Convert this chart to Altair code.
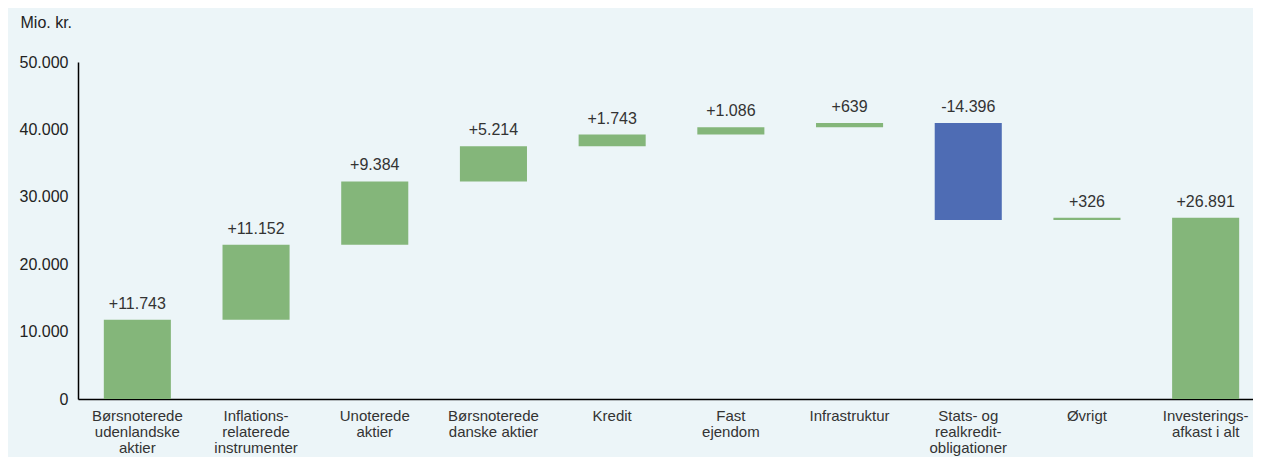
import altair as alt
import pandas as pd

categories = [
    "Børsnoterede|udenlandske|aktier",
    "Inflations-|relaterede|instrumenter",
    "Unoterede|aktier",
    "Børsnoterede|danske aktier",
    "Kredit",
    "Fast|ejendom",
    "Infrastruktur",
    "Stats- og|realkredit-|obligationer",
    "Øvrigt",
    "Investerings-|afkast i alt",
]
changes = [11743, 11152, 9384, 5214, 1743, 1086, 639, -14396, 326, 26891]
is_total = [False] * 9 + [True]

rows = []
cum = 0
for cat, v, tot in zip(categories, changes, is_total):
    if tot:
        start, end = 0, v
    else:
        start, end = cum, cum + v
        cum = end
    rows.append({
        "cat": cat,
        "start": start,
        "end": end,
        "top": max(start, end),
        "label": f"{v:+,}".replace(",", "."),
        "kind": "neg" if v < 0 else "pos",
    })
df = pd.DataFrame(rows)

FONT = "Liberation Sans"
xenc = alt.X(
    "cat:N",
    sort=categories,
    scale=alt.Scale(paddingInner=0.435, paddingOuter=0.2175, range=[0, 1187]),
    axis=alt.Axis(
        title=None, labelAngle=0, ticks=False, domainColor="#000", domainWidth=1.5,
        labelExpr="split(datum.label, '|')", labelFont=FONT, labelFontSize=15,
        labelColor="#333", labelPadding=9, labelLineHeight=16, labelBaseline="top",
        labelLimit=200,
    ),
)

bars = alt.Chart(df).mark_bar().encode(
    x=xenc,
    y=alt.Y(
        "start:Q",
        scale=alt.Scale(domain=[0, 50000], nice=False),
        axis=alt.Axis(
            values=[0, 10000, 20000, 30000, 40000, 50000],
            labelExpr="replace(format(datum.value, ','), ',', '.')",
            grid=False, ticks=False, domainColor="#000", domainWidth=1.5,
            labelFont=FONT, labelFontSize=16, labelColor="#222", labelPadding=10,
            title="Mio. kr.", titleAngle=0, titleAlign="left", titleBaseline="middle",
            titleX=-58, titleY=-40, titleFont=FONT, titleFontSize=16,
            titleFontWeight="normal", titleColor="#222",
        ),
    ),
    y2="end:Q",
    color=alt.Color(
        "kind:N",
        scale=alt.Scale(domain=["pos", "neg"], range=["#84B67A", "#4E6CB4"]),
        legend=None,
    ),
)

labels = alt.Chart(df).mark_text(
    baseline="alphabetic", dy=-11, font=FONT, fontSize=16, color="#333"
).encode(
    x=alt.X("cat:N", sort=categories),
    y=alt.Y("top:Q"),
    text="label:N",
)

chart = (
    alt.layer(bars, labels)
    .properties(
        width=1175,
        height=337,
        background="#ECF5F8",
        autosize=alt.AutoSizeParams(type="none"),
        padding={"left": 70, "top": 54, "right": 0, "bottom": 58},
    )
    .configure_view(stroke=None)
)

chart.save("out.html", embed_options={"renderer": "svg", "actions": False})
